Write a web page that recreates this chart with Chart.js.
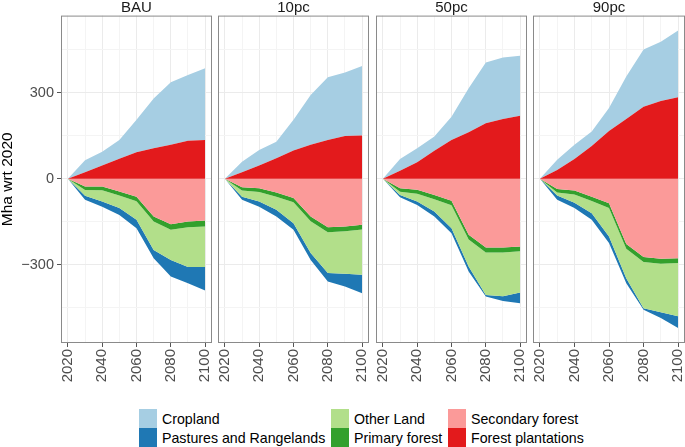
<!DOCTYPE html>
<html>
<head>
<meta charset="utf-8">
<script src="https://cdn.jsdelivr.net/npm/chart.js@4/dist/chart.umd.min.js"></script>
<style>
html,body{margin:0;padding:0;background:#fff;}
body{width:685px;height:447px;position:relative;overflow:hidden;font-family:"Liberation Sans",Arial,sans-serif;}
canvas{position:absolute;top:0;}
.box{position:absolute;width:18px;height:18.5px;}
.lt{position:absolute;font-size:14.2px;color:#000;line-height:18px;white-space:nowrap;}
</style>
</head>
<body>
<canvas id="c0" width="212" height="400" style="left:0px"></canvas>
<canvas id="c1" width="151" height="400" style="left:218px"></canvas>
<canvas id="c2" width="151" height="400" style="left:376px"></canvas>
<canvas id="c3" width="152" height="400" style="left:533px"></canvas>

<div class="box" style="left:139px;top:409px;background:#A6CEE3"></div>
<div class="lt" style="left:162px;top:410px">Cropland</div>
<div class="box" style="left:139px;top:428px;background:#1F78B4"></div>
<div class="lt" style="left:162px;top:429px">Pastures and Rangelands</div>
<div class="box" style="left:331px;top:409px;background:#B2DF8A"></div>
<div class="lt" style="left:354px;top:410px">Other Land</div>
<div class="box" style="left:331px;top:428px;background:#33A02C"></div>
<div class="lt" style="left:354px;top:429px">Primary forest</div>
<div class="box" style="left:448px;top:409px;background:#FB9A99"></div>
<div class="lt" style="left:471px;top:410px">Secondary forest</div>
<div class="box" style="left:448px;top:428px;background:#E31A1C"></div>
<div class="lt" style="left:471px;top:429px">Forest plantations</div>

<script>
// ---- data ----
const years = [2020, 2030, 2040, 2050, 2060, 2070, 2080, 2090, 2100];
const scenarios = ['BAU', '10pc', '50pc', '90pc'];
const xTicks = [2020, 2030, 2040, 2050, 2060, 2070, 2080, 2090, 2100];
const yTicks = [-450, -300, -150, 0, 150, 300, 450];

const plantations_BAU = [0, 23, 47, 70, 93, 107, 119, 133, 136];
const cropland_BAU    = [0, 42, 48, 66, 113, 174, 218, 230, 250];
const secondary_BAU   = [0, -27, -27, -44, -62, -131, -158, -149, -145];
const primary_BAU     = [0, -12, -13, -14, -16, -18, -20, -20, -21];
const otherLand_BAU   = [0, -20, -39, -44, -65, -99, -105, -139, -142];
const pastures_BAU    = [0, -14, -18, -24, -29, -29, -58, -56, -82];

const plantations_10pc = [0, 23, 47, 72, 99, 119, 136, 150, 151];
const cropland_10pc    = [0, 37, 54, 58, 107, 174, 219, 221, 243];
const secondary_10pc   = [0, -29, -33, -48, -67, -131, -169, -166, -160];
const primary_10pc     = [0, -12, -13, -14, -15, -17, -17, -17, -17];
const otherLand_10pc   = [0, -21, -33, -46, -73, -111, -143, -148, -158];
const pastures_10pc    = [0, -11, -18, -23, -23, -24, -29, -45, -64];

const plantations_50pc = [0, 28, 58, 98, 136, 163, 194, 209, 220];
const cropland_50pc    = [0, 41, 49, 50, 81, 153, 212, 215, 210];
const secondary_50pc   = [0, -33, -38, -56, -76, -195, -240, -240, -236];
const primary_50pc     = [0, -12, -14, -15, -16, -17, -17, -17, -17];
const otherLand_50pc   = [0, -11, -27, -43, -80, -94, -148, -153, -144];
const pastures_50pc    = [0, -8, -12, -17, -18, -17, -6, -16, -37];

const plantations_90pc = [0, 31, 69, 115, 167, 209, 252, 272, 285];
const cropland_90pc    = [0, 36, 50, 50, 80, 148, 200, 207, 233];
const secondary_90pc   = [0, -35, -41, -62, -85, -227, -273, -279, -277];
const primary_90pc     = [0, -13, -14, -15, -17, -17, -17, -17, -17];
const otherLand_90pc   = [0, -10, -28, -43, -99, -103, -162, -170, -186];
const pastures_90pc    = [0, -15, -19, -23, -23, -17, -5, -20, -41];

// ---- series definitions (stack order) ----
const series = [
  {label: 'Forest plantations', color: '#E31A1C', fill: 'origin',
   values: [plantations_BAU, plantations_10pc, plantations_50pc, plantations_90pc]},
  {label: 'Cropland', color: '#A6CEE3', fill: '-1',
   values: [cropland_BAU, cropland_10pc, cropland_50pc, cropland_90pc]},
  {label: 'Secondary forest', color: '#FB9A99', fill: 'origin',
   values: [secondary_BAU, secondary_10pc, secondary_50pc, secondary_90pc]},
  {label: 'Primary forest', color: '#33A02C', fill: '-1',
   values: [primary_BAU, primary_10pc, primary_50pc, primary_90pc]},
  {label: 'Other Land', color: '#B2DF8A', fill: '-1',
   values: [otherLand_BAU, otherLand_10pc, otherLand_50pc, otherLand_90pc]},
  {label: 'Pastures and Rangelands', color: '#1F78B4', fill: '-1',
   values: [pastures_BAU, pastures_10pc, pastures_50pc, pastures_90pc]}
];

const FONT = '"Liberation Sans", Arial, sans-serif';

const stripFix = {
  id: 'stripFix',
  afterLayout(chart) {
    const t = chart.titleBlock;
    if (t) {
      t.left = chart.chartArea.left;
      t.right = chart.chartArea.right;
      t.width = t.right - t.left;
    }
  }
};
const panelBorder = {
  id: 'panelBorder',
  afterDraw(chart) {
    const {ctx, chartArea: a} = chart;
    ctx.save();
    ctx.strokeStyle = '#8a8a8a';
    ctx.lineWidth = 1;
    ctx.strokeRect(a.left + 0.5, a.top + 0.5, a.right - a.left - 1, a.bottom - a.top - 1);
    ctx.restore();
  }
};

function makeChart(id, k, showY) {
  const canvas = document.getElementById(id);
  const H = canvas.height;
  new Chart(canvas, {
    type: 'line',
    data: {
      datasets: series.map(s => ({
        label: s.label,
        data: years.map((yr, i) => ({x: yr, y: s.values[k][i]})),
        backgroundColor: s.color,
        borderColor: 'rgba(0,0,0,0)',
        borderWidth: 0,
        pointRadius: 0,
        pointHoverRadius: 0,
        fill: s.fill,
        tension: 0
      }))
    },
    options: {
      responsive: false,
      animation: false,
      events: [],
      layout: {padding: 0},
      plugins: {
        legend: {display: false},
        tooltip: {enabled: false},
        title: {
          display: true,
          text: scenarios[k],
          color: '#1A1A1A',
          font: {family: FONT, size: 15, lineHeight: 1.0, weight: 'normal'},
          padding: {top: 0, bottom: 0.6}
        }
      },
      scales: {
        x: {
          type: 'linear',
          min: 2016,
          max: 2104,
          afterBuildTicks: s => { s.ticks = xTicks.map(v => ({value: v})); },
          afterFit: s => { s.height = H - 343; s.paddingLeft = 0; s.paddingRight = 0; },
          border: {display: false},
          grid: {
            color: c => (c.tick && c.tick.value % 20 === 0) ? '#EBEBEB' : '#F4F4F4',
            tickColor: c => (c.tick && c.tick.value % 20 === 0) ? '#555555' : 'rgba(0,0,0,0)',
            tickLength: 4,
            drawTicks: true
          },
          ticks: {
            autoSkip: false,
            minRotation: 90,
            maxRotation: 90,
            padding: 2,
            color: '#4D4D4D',
            font: {family: FONT, size: 15},
            callback: v => (v % 20 === 0) ? String(v) : ''
          }
        },
        y: {
          stacked: true,
          min: -573,
          max: 570,
          afterBuildTicks: s => { s.ticks = yTicks.map(v => ({value: v})); },
          afterFit: s => { s.width = showY ? 61 : 0; },
          border: {display: false},
          title: {
            display: showY,
            text: 'Mha wrt 2020',
            color: '#000000',
            font: {family: FONT, size: 15.5, lineHeight: 1.0},
            padding: {top: 0, bottom: 0}
          },
          grid: {
            color: c => (c.tick && c.tick.value % 300 === 0) ? '#EBEBEB' : '#F4F4F4',
            tickColor: c => (c.tick && c.tick.value % 300 === 0) ? '#555555' : 'rgba(0,0,0,0)',
            tickLength: showY ? 4 : 0,
            drawTicks: showY
          },
          ticks: {
            display: showY,
            padding: 3,
            color: '#4D4D4D',
            font: {family: FONT, size: 14.5},
            callback: v => (v % 300 === 0) ? (v < 0 ? '\u2212' + Math.abs(v) : String(v)) : ''
          }
        }
      }
    },
    plugins: [stripFix, panelBorder]
  });
}

makeChart('c0', 0, true);
makeChart('c1', 1, false);
makeChart('c2', 2, false);
makeChart('c3', 3, false);
</script>
</body>
</html>
